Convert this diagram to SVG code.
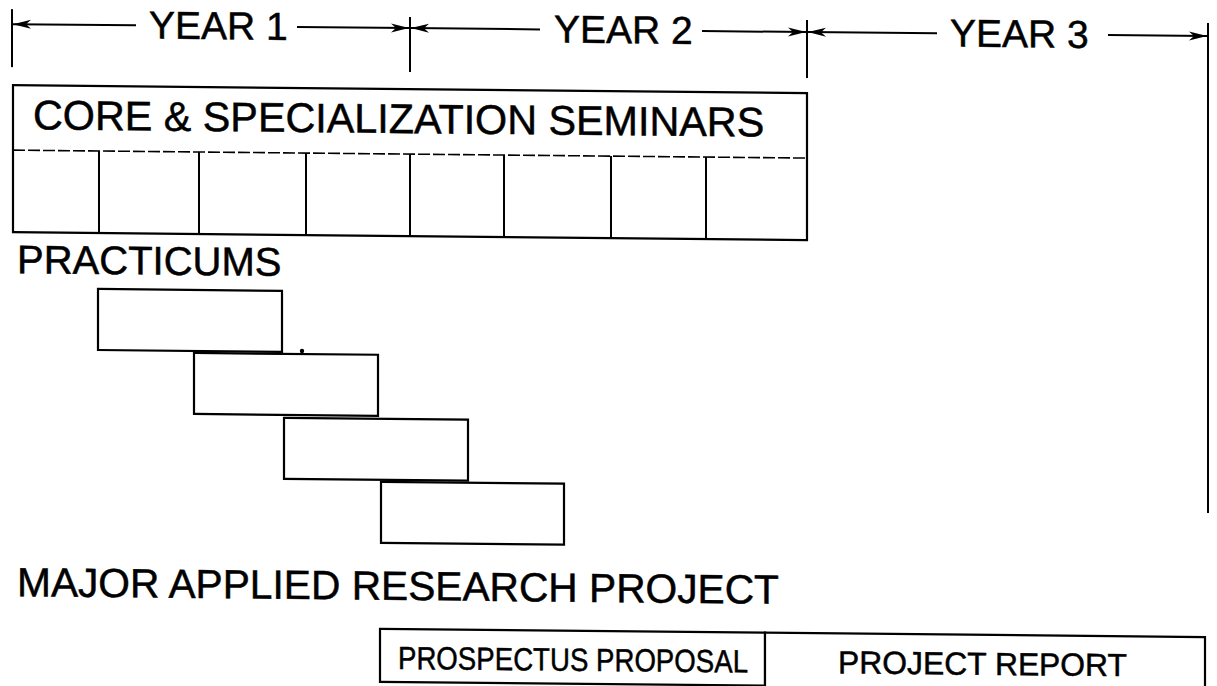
<svg xmlns="http://www.w3.org/2000/svg" width="1217" height="686" viewBox="0 0 1217 686">
  <style>
    .ln { stroke: #000; stroke-width: 2; fill: none; }
    .box { stroke: #000; stroke-width: 2.2; fill: #fff; }
    .dash { stroke: #000; stroke-width: 1.6; stroke-dasharray: 12 3; fill: none; }
    .t { font-family: "Liberation Sans", Arial, Helvetica, sans-serif; fill: #000; stroke: #000; stroke-width: 0.5; }
    .yr { font-size: 39px; }
    .sm { font-size: 32px; }
  </style>
  <defs>
    <marker id="ah" viewBox="0 0 18 10" refX="18" refY="5" markerWidth="18" markerHeight="10" markerUnits="userSpaceOnUse" orient="auto-start-reverse">
      <path d="M0,0.5 L18,5 L0,9.5 L5,5 Z" fill="#000"/>
    </marker>
  </defs>

  <rect width="1217" height="686" fill="#fff"/>

  <!-- whole sheet sits with a slight downward slope to the right -->
  <g transform="matrix(1 0.01 0 1 0 0)">

    <!-- timeline: year boundaries and spans -->
    <g id="timeline">
      <line class="ln" x1="12" y1="9" x2="12" y2="67"/>
      <line class="ln" x1="410" y1="13" x2="410" y2="68"/>
      <line class="ln" x1="807" y1="12" x2="807" y2="70"/>
      <line class="ln" x1="1208" y1="11" x2="1208" y2="501"/>
    </g>

    <g id="connectors">
      <line class="ln" x1="136" y1="24" x2="13" y2="24" marker-end="url(#ah)"/>
      <line class="ln" x1="297" y1="24" x2="409" y2="24" marker-end="url(#ah)"/>
      <line class="ln" x1="540" y1="24" x2="411" y2="24" marker-end="url(#ah)"/>
      <line class="ln" x1="702" y1="24" x2="806" y2="24" marker-end="url(#ah)"/>
      <line class="ln" x1="937" y1="24" x2="808" y2="24" marker-end="url(#ah)"/>
      <line class="ln" x1="1108" y1="24" x2="1207" y2="24" marker-end="url(#ah)"/>
    </g>

    <g id="year1"><text class="t yr" x="149" y="37">YEAR 1</text></g>
    <g id="year2"><text class="t yr" x="554" y="37">YEAR 2</text></g>
    <g id="year3"><text class="t yr" x="950" y="37">YEAR 3</text></g>

    <!-- seminar block: title row over eight term cells -->
    <g id="seminars">
      <rect class="box" x="13" y="85" width="794" height="147"/>
      <line class="dash" x1="13" y1="150" x2="807" y2="150"/>
      <g class="ln">
        <line x1="99" y1="150" x2="99" y2="232"/>
        <line x1="199" y1="150" x2="199" y2="232"/>
        <line x1="306" y1="150" x2="306" y2="232"/>
        <line x1="410" y1="150" x2="410" y2="232"/>
        <line x1="504" y1="150" x2="504" y2="232"/>
        <line x1="611" y1="150" x2="611" y2="232"/>
        <line x1="706" y1="150" x2="706" y2="232"/>
      </g>
      <text class="t" x="33" y="129" font-size="41.3">CORE &amp; SPECIALIZATION SEMINARS</text>
    </g>

    <g id="practicums-label"><text class="t" x="17" y="273" font-size="40">PRACTICUMS</text></g>

    <!-- staggered practicum placements -->
    <g id="practicum1"><rect class="box" x="98" y="288" width="184" height="61"/></g>
    <g id="practicum2"><rect class="box" x="194" y="351" width="184" height="61"/><circle cx="302" cy="348" r="2.2" fill="#000"/></g>
    <g id="practicum3"><rect class="box" x="284" y="415" width="184" height="61"/></g>
    <g id="practicum4"><rect class="box" x="381" y="478" width="183" height="61"/></g>

    <g id="project-label"><text class="t" x="17" y="596" font-size="40.7">MAJOR APPLIED RESEARCH PROJECT</text></g>

    <!-- project phases -->
    <g id="prospectus">
      <rect class="box" x="380" y="625" width="385" height="53"/>
      <text class="t sm" x="398" y="665" textLength="350" lengthAdjust="spacingAndGlyphs">PROSPECTUS PROPOSAL</text>
    </g>
    <g id="report">
      <rect class="box" x="765" y="625" width="440" height="70"/>
      <text class="t sm" x="838" y="665" textLength="289" lengthAdjust="spacingAndGlyphs">PROJECT REPORT</text>
    </g>
  </g>
</svg>
